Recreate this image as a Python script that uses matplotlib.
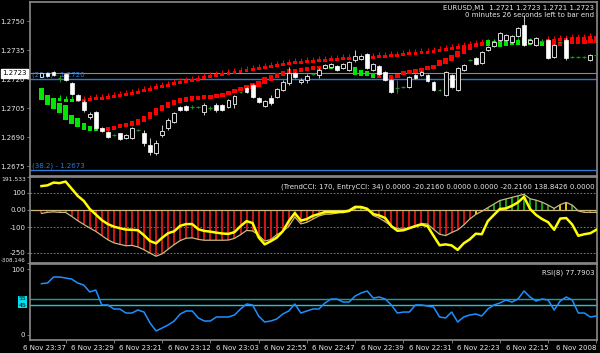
import matplotlib
matplotlib.use('Agg')
import matplotlib.pyplot as plt
import matplotlib.transforms as mtrans
from matplotlib.patches import Rectangle
import numpy as np

# prices are kept as pips above BASE; bar 0 = newest bar (drawn on the left)
BASE = 1.2600
PIP = 0.0001

candle_open = [121.0,123.2,123.7,120.6,122.6,118.0,111.8,108.2,100.4,103.0,
               94.7,92.7,91.1,92.1,89.6,89.6,93.7,92.1,85.9,81.8,
               91.1,94.7,97.8,105.6,106.1,105.6,105.6,103.0,105.1,106.6,
               106.6,105.6,107.1,113.3,115.4,117.0,110.2,106.1,110.2,110.8,
               114.4,118.0,123.2,118.5,119.5,122.6,122.1,125.7,126.3,126.8,
               125.7,124.7,129.9,130.4,133.0,124.7,126.8,123.7,119.5,115.4,
               115.9,115.9,122.1,122.1,122.1,118.5,114.4,111.8,122.1,114.4,
               124.7,129.9,130.9,128.3,135.1,137.1,140.2,140.2,139.2,142.3,
               148.0,138.7,137.6,139.7,140.2,131.4,139.2,140.2,131.4,131.4,
               131.4,129.9,132.5]
candle_high = [123.0,123.5,124.0,122.1,123.0,118.3,112.2,109.2,103.0,103.3,
               95.0,93.0,91.6,92.4,91.4,95.0,94.2,93.7,89.6,88.5,
               96.3,99.9,103.0,106.0,106.6,106.6,106.1,107.6,106.0,107.6,
               107.0,109.7,111.8,114.0,115.9,117.5,110.8,109.2,111.8,115.4,
               119.5,126.3,123.7,120.6,122.6,123.2,125.7,127.8,128.3,127.3,
               128.3,129.4,135.1,132.5,133.5,128.3,127.3,124.2,120.1,119.5,
               116.4,121.6,122.6,124.2,122.6,119.0,115.0,124.2,122.6,126.3,
               127.8,130.4,131.4,134.5,137.1,139.7,144.3,143.3,142.8,147.0,
               153.1,140.7,141.8,140.2,140.7,138.1,139.7,141.3,132.0,131.9,
               131.9,133.0,133.0]
candle_low = [121.0,121.3,121.8,118.5,119.2,112.0,108.8,103.0,99.4,94.4,
              92.9,89.8,90.6,88.7,89.3,89.3,93.2,85.4,80.8,80.8,
              90.1,93.7,97.3,103.5,103.5,104.5,105.1,101.4,104.0,103.0,
              103.5,105.1,105.1,112.8,112.8,110.2,107.6,105.6,106.6,110.2,
              113.9,117.0,120.6,117.5,118.0,122.1,120.6,125.2,125.7,124.2,
              125.2,124.2,128.8,129.9,125.2,124.2,122.1,119.0,112.8,112.8,
              115.4,115.4,120.1,121.6,118.5,113.9,113.9,111.3,115.4,113.9,
              124.2,129.4,127.3,127.8,134.5,136.6,139.7,139.7,138.7,141.8,
              137.1,138.1,137.1,139.2,130.4,130.9,138.7,129.9,130.9,130.9,
              130.9,129.4,132.0]
candle_close = [123.0,121.6,122.1,120.6,119.5,112.3,109.2,104.0,102.0,94.7,
                93.2,90.1,91.1,89.0,91.1,94.7,93.7,87.0,82.3,87.0,
                93.2,98.9,102.5,104.0,104.0,105.6,105.6,106.6,105.1,104.0,
                104.0,109.2,111.3,113.3,113.3,110.8,108.2,108.7,107.6,114.9,
                118.5,123.2,121.1,119.5,121.6,122.6,124.7,127.3,127.8,124.7,
                127.8,128.8,131.9,131.9,125.7,127.8,122.6,119.5,113.3,115.4,
                115.9,121.1,120.6,123.7,119.0,114.4,114.4,123.7,115.9,125.7,
                127.3,129.9,127.8,134.0,136.6,139.2,143.8,142.8,142.3,146.4,
                137.6,140.2,141.3,139.7,130.9,137.6,139.2,130.9,131.4,131.4,
                131.4,132.5,132.5]

# lower trend band (block top / bottom), upper trend band (marker level)
lower_top = [115.4,111.8,110.2,107.6,106.6,101.4,99.9,97.3,95.8,94.7,
             94.7,95.2,95.8,96.8,97.3,98.3,99.4,100.9,103.0,105.1,
             106.6,108.2,109.2,110.2,110.8,111.3,111.3,111.8,111.8,112.3,
             112.8,113.9,114.9,115.9,117.0,118.0,119.0,121.1,122.1,123.2,
             124.2,125.2,125.2,125.7,126.3,126.8,126.8,127.3,127.3,126.8,
             127.3,126.3,126.3,124.7,124.2,123.2,122.6,122.1,122.1,122.6,
             124.2,124.7,125.2,125.7,126.8,127.3,129.9,130.9,132.5,134.5,
             136.1,137.6,138.7,139.2,140.2,139.7,139.2,140.2,140.2,140.2,
             141.3,140.7,140.2,139.7,139.2,139.7,139.2,139.7,140.2,140.2,
             140.2,140.7,140.7]
lower_bottom = [109.2,106.6,104.5,102.5,98.9,96.8,95.2,93.7,93.2,93.2,
                93.2,93.2,93.7,94.7,95.2,95.8,96.3,97.8,99.4,101.4,
                103.5,105.1,106.6,107.6,108.2,108.7,109.2,109.7,109.7,110.2,
                110.8,111.8,112.8,113.9,114.9,114.9,115.9,117.5,119.0,120.6,
                121.6,123.2,123.2,123.7,124.2,124.7,124.7,125.2,125.2,124.7,
                125.2,124.2,122.1,121.6,121.6,120.6,120.6,120.1,120.1,120.6,
                122.1,122.6,123.2,123.7,124.7,125.2,126.8,127.8,129.4,131.4,
                133.0,135.1,136.6,137.1,137.1,136.6,136.6,137.1,137.6,137.6,
                138.1,137.6,137.1,137.1,137.1,137.6,137.1,137.6,138.1,138.1,
                138.1,138.7,138.7]
lower_trend = 'u' * 10 + 'd' * 37 + 'u' * 9 + 'd' * 18 + 'u' * 10 + 'd' * 9

nan = np.nan
upper_band = [nan,nan,nan,110.2,109.7,109.7,109.7,109.7,110.2,110.8,
              110.8,111.3,111.8,112.3,112.8,113.3,113.9,114.9,115.4,116.4,
              117.0,117.5,118.5,119.0,119.5,120.1,120.6,121.6,122.1,122.6,
              123.2,123.7,124.2,124.7,125.2,125.7,126.3,126.8,127.3,127.8,
              128.3,128.8,129.4,129.4,129.9,129.9,130.4,130.4,130.9,130.9,
              131.4,131.4,131.4,131.9,131.9,131.9,132.5,132.5,133.0,133.0,
              133.5,134.0,134.0,134.5,134.5,135.1,135.6,136.1,136.6,137.1,
              137.6,138.1,138.7,139.2,139.2,139.2,139.7,139.7,139.7,139.7,
              140.2,139.7,139.2,139.2,140.7,140.7,141.3,141.3,141.8,141.8,
              141.8,142.3,142.3]
upper_trend = 'u' * 6 + 'd' * 68 + 'u' * 10 + 'd' * 9

trend_cci = [-20.2,-14,-11,-14,-14,-37,-62,-84,-105,-124,
             -149,-173,-191,-200,-208,-206,-215,-231,-251,-269,
             -255,-228,-201,-178,-164,-162,-171,-176,-176,-176,
             -176,-175,-165,-144,-119,-122,-146,-181,-172,-144,
             -125,-95,-41,-81,-72,-53,-35,-25,-24,-18,
             -9,1,22,21,10,-32,-47,-69,-94,-108,
             -112,-103,-91,-78,-82,-112,-141,-149,-131,-116,
             -88,-53,-26,-8,13,34,55,64,73,82,
             91,65,57,45,28,9,31,44,28,-6,
             -14,-14,-14]
hist_state = 'r' * 51 + 'g' * 4 + 'r' * 17 + 'y' + 'n' + 'g' * 12 + 'yy' + 'g' + 'r' * 4
entry_cci = [138.8,143,159,156,165,124,82,53,6,-26,
             -59,-82,-97,-106,-114,-115,-118,-147,-181,-194,
             -162,-135,-124,-92,-82,-82,-112,-122,-126,-132,
             -137,-139,-129,-94,-65,-76,-159,-200,-182,-161,
             -124,-65,-18,-62,-53,-34,-24,-12,-12,-12,
             -12,-6,16,16,6,-24,-32,-47,-94,-121,
             -118,-106,-94,-85,-94,-150,-205,-200,-206,-232,
             -194,-171,-138,-141,-65,-29,6,9,24,44,
             76,6,-29,-53,-71,-115,-50,-47,-85,-150,
             -141,-135,-115]

rsi = [77.8,78.8,87.9,87.9,86.4,84.8,78.8,75.8,65.2,68.2,
       45.5,45.5,39.4,39.4,33.3,33.3,37.9,34.8,18.2,6.1,
       10.6,15.2,21.2,31.8,36.4,36.4,25.8,21.2,21.2,27.3,
       27.3,27.3,30.3,39.4,47.0,45.5,28.8,19.7,21.2,24.2,
       31.8,36.4,47.0,33.3,36.4,39.4,39.4,48.5,54.5,54.5,
       50.0,50.0,59.1,63.6,66.7,56.0,57.6,54.5,45.5,33.3,
       34.8,34.8,45.5,45.5,43.9,42.4,27.3,25.8,34.8,19.7,
       27.3,30.3,31.8,28.8,39.4,45.5,48.5,53.0,50.0,54.5,
       66.7,57.6,51.5,54.5,53.0,37.9,51.5,57.6,53.0,33.3,
       33.3,27.3,28.8]

time_pos = [4, 12, 20, 28, 36, 44, 52, 60, 68, 76, 84, 92]
time_labels = ['6 Nov 23:37', '6 Nov 23:29', '6 Nov 23:21', '6 Nov 23:12',
               '6 Nov 23:03', '6 Nov 22:55', '6 Nov 22:47', '6 Nov 22:39',
               '6 Nov 22:31', '6 Nov 22:23', '6 Nov 22:15', '6 Nov 2008']
price_ticks = [1.2675, 1.2690, 1.2705, 1.2720, 1.2735, 1.2750]
cci_ticks = [191.533, 100, 0, -100, -250, -308.146]
cci_tick_labels = ['191.533', '100', '0.00', '-100', '-250', '-308.146']

to_price = lambda a: BASE + PIP * np.asarray(a, dtype=float)
o, h, l, c = map(to_price, (candle_open, candle_high, candle_low, candle_close))
lo_top, lo_bot, up = map(to_price, (lower_top, lower_bottom, upper_band))
x = np.arange(len(o))

# colours
BG = 'black'
FRAME = '#8a8a8a'
TXT = '#e8e8e8'
RED = '#ff0000'
GREEN = '#00e600'
FS = 5

fig = plt.figure(figsize=(6.0, 3.53), dpi=100, facecolor=BG)
ax1 = fig.add_axes([0.05, 0.5014, 0.945, 0.4929])
ax2 = fig.add_axes([0.05, 0.2550, 0.945, 0.2436])
ax3 = fig.add_axes([0.05, 0.0368, 0.945, 0.2153])


def style(ax):
    ax.set_facecolor(BG)
    for s in ax.spines.values():
        s.set_color(FRAME)
        s.set_linewidth(1.2)
    ax.set_xlim(-1.9, 92.1)
    ax.tick_params(colors=TXT, labelsize=FS, length=2, width=0.6, pad=1.5)
    ax.tick_params(axis='both', color=FRAME)
    ax.set_xticks([])


for a in (ax1, ax2, ax3):
    style(a)

# ---- main price panel
pix = 0.0000517  # price per pixel, used for the small band markers
for i in x:
    col = GREEN if lower_trend[i] == 'u' else RED
    ax1.add_patch(Rectangle((i - 0.36, lo_bot[i]), 0.72, lo_top[i] - lo_bot[i],
                            facecolor=col, edgecolor='none', zorder=2))
    if not np.isnan(up[i]):
        col = GREEN if upper_trend[i] == 'u' else RED
        ax1.add_patch(Rectangle((i - 0.32, up[i] - 3 * pix), 0.64, 3 * pix,
                                facecolor=col, edgecolor='none', zorder=2))
        ax1.vlines(i, up[i], up[i] + 3 * pix, color=col, lw=0.7, zorder=2)

bw = 0.64
for i in x:
    if c[i] == o[i]:
        ax1.vlines(i, l[i], h[i], color='#1f8f1f', lw=0.7, zorder=3)
        ax1.hlines(c[i], i - bw / 2, i + bw / 2, color='#1f8f1f', lw=0.9, zorder=3)
        continue
    ax1.vlines(i, l[i], h[i], color='#c8c8c8', lw=0.7, zorder=3)
    if c[i] > o[i]:
        ax1.add_patch(Rectangle((i - bw / 2, o[i]), bw, c[i] - o[i], facecolor='black',
                                edgecolor='#d8d8d8', lw=0.7, zorder=4))
    else:
        ax1.add_patch(Rectangle((i - bw / 2, c[i]), bw, o[i] - c[i], facecolor='white',
                                edgecolor='white', lw=0.5, zorder=4))

ax1.axhline(1.2723, color='#8c8c8c', lw=0.8, zorder=1)
ax1.axhline(1.2720, color='#2a7ad6', lw=1.0, zorder=1)
ax1.axhline(1.2673, color='#2a7ad6', lw=1.0, zorder=1)
blend1 = mtrans.blended_transform_factory(ax1.transAxes, ax1.transData)
ax1.text(0.003, 1.27205, '(23.6) - 1.2720', color='#2a7ad6', fontsize=FS,
         transform=blend1, va='bottom', ha='left')
ax1.text(0.003, 1.26735, '(38.2) - 1.2673', color='#2a7ad6', fontsize=FS,
         transform=blend1, va='bottom', ha='left')
ax1.set_ylim(1.26699, 1.27599)
ax1.set_yticks(price_ticks)
ax1.set_yticklabels(['%.4f' % v for v in price_ticks])
ax1.text(-0.006, 1.2723, '1.2723', color='black', fontsize=FS, transform=blend1,
         ha='right', va='center', zorder=10, clip_on=False,
         bbox=dict(boxstyle='square,pad=0.2', fc='white', ec='white'))
ax1.text(0.995, 0.985, 'EURUSD,M1  1.2721 1.2723 1.2721 1.2723', color=TXT,
         fontsize=FS, transform=ax1.transAxes, ha='right', va='top')
ax1.text(0.995, 0.94, '0 minutes 26 seconds left to bar end', color=TXT,
         fontsize=FS, transform=ax1.transAxes, ha='right', va='top')

# ---- CCI panel
hist_cols = {'r': '#e01818', 'g': '#18b018', 'y': '#ffd800', 'n': '#a8a8a8'}
ax2.vlines(x, 0, trend_cci, colors=[hist_cols[s] for s in hist_state], lw=1.3, zorder=2)
ax2.axhline(0, color='#cdb97e', lw=0.9, zorder=2)
ax2.plot(x, trend_cci, color='#cdb97e', lw=0.9, zorder=3)
for lv in (100, -100, -250):
    ax2.axhline(lv, color='#8c8c8c', lw=0.6, ls=(0, (2, 2)), zorder=1)
ax2.plot(x, entry_cci, color='#ffff00', lw=1.8, zorder=4)
ax2.set_ylim(-308.146, 191.533)
ax2.set_yticks(cci_ticks)
ax2.set_yticklabels(cci_tick_labels)
ax2.tick_params(axis='y', pad=1)
tl = ax2.get_yticklabels()
tl[0].set_va('top')
tl[0].set_fontsize(4.3)
tl[-1].set_va('bottom')
tl[-1].set_fontsize(4.0)
ax2.text(0.995, 0.93, '(TrendCCI: 170, EntryCCI: 34) 0.0000 -20.2160 0.0000 0.0000 -20.2160 138.8426 0.0000',
         color=TXT, fontsize=FS, transform=ax2.transAxes, ha='right', va='top')

# ---- RSI panel
ax3.axhline(55, color='#14a0a0', lw=1.0, zorder=1)
ax3.axhline(45, color='#20c4d4', lw=1.0, zorder=1)
ax3.plot(x, rsi, color='#1e90ff', lw=1.1, zorder=3)
ax3.set_ylim(-7.6, 107.6)
ax3.set_yticks([100, 0])
ax3.set_yticklabels(['100', '0'])
blend3 = mtrans.blended_transform_factory(ax3.transAxes, ax3.transData)
for lv in (55, 45):
    ax3.text(-0.006, lv, str(lv), color='black', fontsize=4.5, transform=blend3,
             ha='right', va='center', clip_on=False, zorder=10,
             bbox=dict(boxstyle='square,pad=0.1', fc='#00e0ee', ec='none'))
ax3.text(0.995, 0.93, 'RSI(8) 77.7903', color=TXT, fontsize=FS,
         transform=ax3.transAxes, ha='right', va='top')
ax3.set_xticks(time_pos)
ax3.set_xticklabels(time_labels)
for t in ax3.get_xticklabels():
    t.set_ha('right')

fig.savefig('out.png', dpi=100, facecolor=BG)
